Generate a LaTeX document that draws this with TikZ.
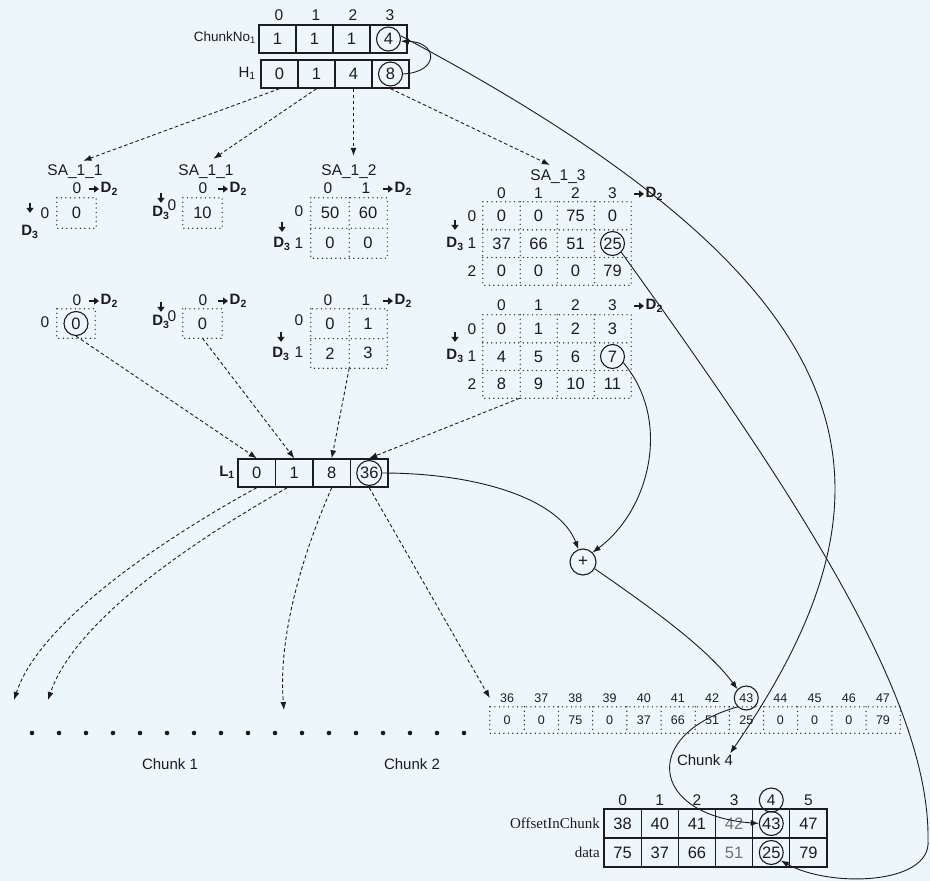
\documentclass[tikz,border=0pt]{standalone}
\usepackage{fontspec}
\setmainfont{Liberation Sans}
\newfontfamily\serf{Liberation Serif}
\usetikzlibrary{arrows.meta}
\definecolor{bg}{RGB}{237,246,251}
\definecolor{ink}{RGB}{28,28,28}
\newcommand\fsz[1]{\fontsize{#1}{#1}\selectfont}
\tikzset{
 cellb/.style={draw=ink, line width=1.4pt, minimum width=37pt, minimum height=28pt, inner sep=0pt, font=\fsz{16.5}},
 cellt/.style={draw=ink, line width=1.2pt, minimum width=37.17pt, minimum height=29pt, inner sep=0pt, font=\fsz{16.5}},
 cellsa/.style={inner sep=0pt, font=\fsz{16.5}},
 idx/.style={inner sep=0pt, font=\fsz{15.5}},
 sidx/.style={inner sep=0pt, font=\fsz{12.5}, minimum width=34.17pt},
 dotl/.style={draw=ink, line width=1.4pt, dash pattern=on 0pt off 4.5pt, line cap=round},
 circ/.style={draw=ink, circle, minimum size=24pt, inner sep=0pt, line width=1.1pt},
 dlab/.style={inner sep=0.5pt, font=\fsz{15}\bfseries},
 axarr/.style={draw=ink, -{Triangle[length=5pt,width=7pt]}, line width=1.8pt},
 title/.style={inner sep=1pt, font=\fsz{15.5}},
 darr/.style={draw=ink, line width=0.9pt, dash pattern=on 3.5pt off 2.5pt, -{Latex[length=8pt,width=6pt]}},
 sarr/.style={draw=ink, line width=0.9pt, -{Latex[length=8pt,width=6pt]}},
}
\newcommand\dtwo[3]{\node[dlab, anchor=west] (#1) at (#2,#3) {D\textsubscript{2}};
 \draw[axarr] ([xshift=-11pt]#1.west) -- ([xshift=-1pt]#1.west);}
\newcommand\dthree[5]{\node[dlab] (#1) at (#2,#3) {D\textsubscript{3}};
 \draw[axarr] ([yshift={(#4+#5)*1pt}]#1.north) -- ([yshift={#4*1pt}]#1.north);}
\begin{document}
\begin{tikzpicture}[x=1pt,y=-1pt, every node/.style={text=ink}]
\fill[bg] (0,0) rectangle (930,881);
\useasboundingbox (0,0) rectangle (930,881);

% ---------- top arrays
\foreach \i/\v in {0/1,1/1,2/1,3/4} \node[cellb] (cn\i) at ({277.5+37*\i},39) {\v};
\foreach \i/\v in {0/0,1/1,2/4,3/8} \node[cellb] (h\i) at ({279.5+37*\i},74) {\v};
\foreach \i in {0,...,3} \node[idx] (ci\i) at ({279+37*\i},15) {\i};
\node[anchor=east, inner sep=1pt, font=\fsz{13.5}] (lcn) at (257,38) {ChunkNo\textsubscript{1}};
\node[anchor=east, inner sep=1pt, font=\fsz{15}] (lh) at (257,73) {H\textsubscript{1}};
\node[circ] (c4) at (cn3) {};
\node[circ] (c8) at (h3) {};

% ---------- SA titles
\node[title] (t1) at (75,172) {SA\_1\_1};
\node[title] (t2) at (206,172) {SA\_1\_1};
\node[title] (t3) at (349,172) {SA\_1\_2};
\node[title] (t4) at (558,177) {SA\_1\_3};

% ---------- A
\node[idx] (A-c0) at (77,188) {0};
\dtwo{A-d2}{100}{189}
\node[cellsa, minimum width=39pt, minimum height=30pt] (A-0-0) at (76.5,213) {0};
\draw[dotl] (A-0-0.north west) rectangle (A-0-0.south east);
\node[idx] (A-r0) at (45,213) {0};
\dthree{A-d3}{30}{232}{12}{10}

% ---------- B
\node[idx] (B-c0) at (203,188) {0};
\dtwo{B-d2}{229}{189}
\node[cellsa, minimum width=39pt, minimum height=30pt] (B-0-0) at (202.5,213) {10};
\draw[dotl] (B-0-0.north west) rectangle (B-0-0.south east);
\node[idx] (B-r0) at (172,205) {0};
\dthree{B-d3}{161}{213}{3}{10}

% ---------- C
\foreach \r/\c/\v in {0/0/50,0/1/60,1/0/0,1/1/0}
  \node[cellsa, minimum width=38pt, minimum height=30pt] (C-\r-\c) at ({330+38*\c},{213+30*\r}) {\v};
\draw[dotl] (C-0-0.north west) rectangle (C-1-1.south east);
\draw[dotl] (C-0-0.south west) -- (C-0-1.south east);
\draw[dotl] (C-0-0.north east) -- (C-1-0.south east);
\node[idx] (C-c0) at (328,188) {0};
\node[idx] (C-c1) at (366,188) {1};
\dtwo{C-d2}{394}{189}
\node[idx] (C-r0) at (299,211) {0};
\node[idx] (C-r1) at (299,243) {1};
\dthree{C-d3}{282}{244}{5}{10}

% ---------- D
\node[idx] (D-c0) at (77,300) {0};
\dtwo{D-d2}{100}{301}
\node[cellsa, minimum width=38pt, minimum height=29pt] (D-0-0) at (76,323.5) {0};
\draw[dotl] (D-0-0.north west) rectangle (D-0-0.south east);
\node[circ] (D-circ) at (D-0-0) {};
\node[idx] (D-r0) at (45,322) {0};

% ---------- E
\node[idx] (E-c0) at (203,300) {0};
\dtwo{E-d2}{229}{301}
\node[cellsa, minimum width=39pt, minimum height=29pt] (E-0-0) at (202.5,323.5) {0};
\draw[dotl] (E-0-0.north west) rectangle (E-0-0.south east);
\node[idx] (E-r0) at (172,316) {0};
\dthree{E-d3}{161}{322}{3}{10}

% ---------- F
\foreach \r/\c/\v in {0/0/0,0/1/1,1/0/2,1/1/3}
  \node[cellsa, minimum width=38pt, minimum height=29.5pt] (F-\r-\c) at ({330+38*\c},{323.75+29.5*\r}) {\v};
\draw[dotl] (F-0-0.north west) rectangle (F-1-1.south east);
\draw[dotl] (F-0-0.south west) -- (F-0-1.south east);
\draw[dotl] (F-0-0.north east) -- (F-1-0.south east);
\node[idx] (F-c0) at (328,300) {0};
\node[idx] (F-c1) at (366,300) {1};
\dtwo{F-d2}{394}{301}
\node[idx] (F-r0) at (299,320) {0};
\node[idx] (F-r1) at (299,352) {1};
\dthree{F-d3}{281}{354}{5}{10}

% ---------- G (SA_1_3)
\foreach \r/\c/\v in {0/0/0,0/1/0,0/2/75,0/3/0,1/0/37,1/1/66,1/2/51,1/3/25,2/0/0,2/1/0,2/2/0,2/3/79}
  \node[cellsa, minimum width=37pt, minimum height=27.67pt] (G-\r-\c) at ({501.5+37*\c},{215.83+27.67*\r}) {\v};
\draw[dotl] (G-0-0.north west) rectangle (G-2-3.south east);
\foreach \r in {0,1} \draw[dotl] (G-\r-0.south west) -- (G-\r-3.south east);
\foreach \c in {0,1,2} \draw[dotl] (G-0-\c.north east) -- (G-2-\c.south east);
\foreach \c in {0,...,3} \node[idx] (G-c\c) at ({501.5+37*\c},193) {\c};
\foreach \r in {0,1,2} \node[idx] (G-r\r) at (472,{215.83+27.67*\r}) {\r};
\dtwo{G-d2}{645}{194}
\dthree{G-d3}{455}{244}{7}{10}
\node[circ] (c25) at (G-1-3) {};

% ---------- H
\foreach \r/\c/\v in {0/0/0,0/1/1,0/2/2,0/3/3,1/0/4,1/1/5,1/2/6,1/3/7,2/0/8,2/1/9,2/2/10,2/3/11}
  \node[cellsa, minimum width=37pt, minimum height=27.67pt] (H-\r-\c) at ({501.5+37*\c},{328.83+27.67*\r}) {\v};
\draw[dotl] (H-0-0.north west) rectangle (H-2-3.south east);
\foreach \r in {0,1} \draw[dotl] (H-\r-0.south west) -- (H-\r-3.south east);
\foreach \c in {0,1,2} \draw[dotl] (H-0-\c.north east) -- (H-2-\c.south east);
\foreach \c in {0,...,3} \node[idx] (H-c\c) at ({501.5+37*\c},305) {\c};
\foreach \r in {0,1,2} \node[idx] (H-r\r) at (472,{328.83+27.67*\r}) {\r};
\dtwo{H-d2}{645}{306}
\dthree{H-d3}{455}{356}{7}{10}
\node[circ] (c7) at (H-1-3) {};

% ---------- L1
\foreach \i/\v in {0/0,1/1,2/8,3/36} \node[cellb, minimum width=37.5pt] (l\i) at ({256.75+37.5*\i},473) {\v};
\node[anchor=east, inner sep=1pt, font=\fsz{15}\bfseries] (lL) at (236,472) {L\textsubscript{1}};
\node[circ, minimum size=25pt] (c36) at (l3) {};

% ---------- plus
\node[circ, minimum size=26pt, font=\fsz{17}] (plus) at (583,562) {+};

% ---------- chunk 4 row
\foreach \i in {0,...,11} {\pgfmathtruncatemacro\n{36+\i}
  \node[sidx] (ki\i) at ({507.08+34.17*\i},698) {\n};}
\foreach \i/\v in {0/0,1/0,2/75,3/0,4/37,5/66,6/51,7/25,8/0,9/0,10/0,11/79}
  \node[sidx, minimum height=26pt] (kv\i) at ({507.08+34.17*\i},720) {\v};
\draw[dotl] (kv0.north west) rectangle (kv11.south east);
\foreach \i in {0,...,10} \draw[dotl] (kv\i.north east) -- (kv\i.south east);
\node[circ] (k43c) at (ki7) {};

% ---------- dots and chunk labels
\foreach \i in {0,...,16} \fill[ink] ({32+27*\i},733) circle (2.3pt);
\node[inner sep=1pt, font=\fsz{15}] (ch1) at (170,764) {Chunk 1};
\node[inner sep=1pt, font=\fsz{15}] (ch2) at (412,764) {Chunk 2};
\node[inner sep=1pt, font=\fsz{15}] (ch4) at (705,760) {Chunk 4};

% ---------- bottom table
\foreach \i in {0,...,5} \node[idx] (ti\i) at ({622.6+37.17*\i},800) {\i};
\foreach \i/\v/\c in {0/38/ink,1/40/ink,2/41/ink,3/42/black!55,4/43/ink,5/47/ink}
  \node[cellt, text=\c] (to\i) at ({622.6+37.17*\i},823.5) {\v};
\foreach \i/\v/\c in {0/75/ink,1/37/ink,2/66/ink,3/51/black!55,4/25/ink,5/79/ink}
  \node[cellt, text=\c] (td\i) at ({622.6+37.17*\i},852.5) {\v};
\node[anchor=east, inner sep=1pt, font=\serf\fsz{15}] (lo) at (601,823) {OffsetInChunk};
\node[anchor=east, inner sep=1pt, font=\serf\fsz{15}] (ld) at (601,852) {data};
\node[circ] (ti4c) at (ti4) {};
\node[circ] (t43c) at (to4) {};
\node[circ] (t25c) at (td4) {};

% ---------- dashed arrows H1 -> SA
\draw[darr, shorten >=9pt] (h0.south) -- (t1.north);
\draw[darr, shorten >=9pt] (h1.south) -- (t2.north);
\draw[darr, shorten >=8pt] (h2.south) -- (h2.south |- t3.north);
\draw[darr, shorten >=9pt] (h3.south) -- (t4.north);

% ---------- dashed arrows into L1
\draw[darr] (D-circ.south) -- (l0.north);
\draw[darr] (E-0-0.south) -- (l1.north);
\draw[darr] (F-1-0.south east) -- (l2.north);
\draw[darr] (H-2-1.south west) -- (l3.north);

% ---------- dashed arrows out of L1
\coordinate (e1) at (14,700);
\coordinate (e2) at (48,700);
\coordinate (e3) at (284,710);
\draw[darr] (l0.south) .. controls (170,535) and (40,620) .. (e1);
\draw[darr] ([xshift=-7pt]l1.south) .. controls (195,540) and (75,620) .. (e2);
\draw[darr] (l2.south) .. controls (300,560) and (278,640) .. (e3);
\draw[darr] (l3.south) -- (ki0.west);

% ---------- solid connectors
\draw[sarr] (c8.east) .. controls (440,72) and (438,42) .. (c4.-10);
\draw[sarr] (c4.15) .. controls (880,290) and (915,485) .. ([xshift=-4pt]ch4.north east);
\draw[sarr] (c36.east) .. controls (480,473) and (560,500) .. (plus.110);
\draw[sarr] (c7.-30) .. controls (672,420) and (650,510) .. (plus.45);
\draw[sarr] (plus.-30) .. controls (653,609) and (708,649) .. (k43c.north west);
\draw[sarr] (k43c.south west) .. controls (640,735) and (650,815) .. (t43c.west);
\coordinate (b25) at (928,840);
\draw[sarr] (c25.-45) .. controls (800,500) and (930,700) .. (b25) .. controls (932,885) and (830,888) .. (t25c.-40);
\end{tikzpicture}
\end{document}
